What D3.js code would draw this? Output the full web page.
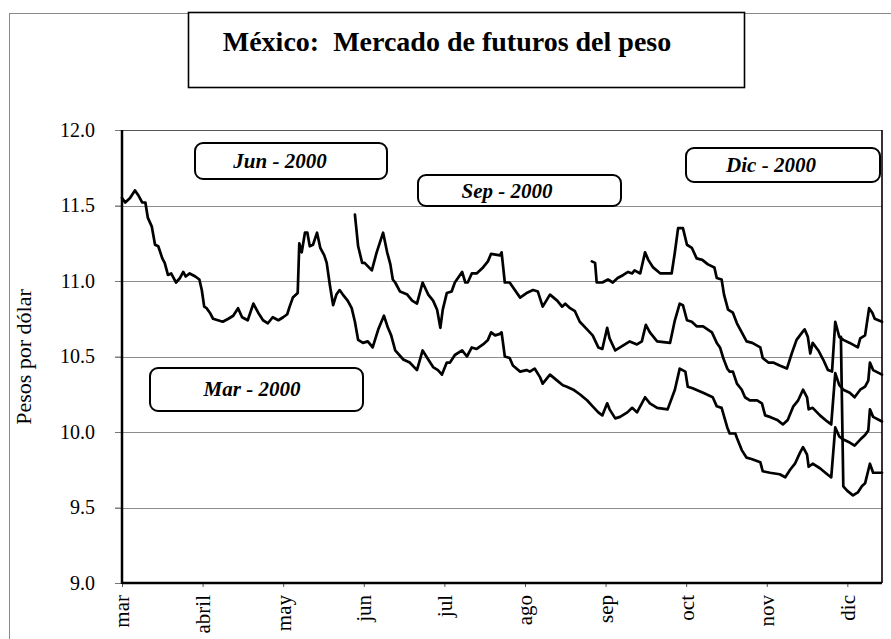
<!DOCTYPE html>
<html><head><meta charset="utf-8">
<script src="https://cdn.jsdelivr.net/npm/d3@7"></script>
<style>
body{margin:0;background:#fff}
svg{display:block}
text{font-family:"Liberation Serif","Times New Roman",serif;fill:#000}
</style>
</head><body>
<svg id="chart" width="891" height="639"></svg>
<script>
// ---- data ----
const months = ["mar","abril","may","jun","jul","ago","sep","oct","nov","dic"];
const yTicks = [9.0, 9.5, 10.0, 10.5, 11.0, 11.5, 12.0];
const titleText = "México:  Mercado de futuros del peso";
const yLabel = "Pesos por dólar";
const contractNames = ["Jun - 2000", "Sep - 2000", "Dic - 2000", "Mar - 2000"];

// [month position (0 = mar), pesos per dollar]
const serie1 = [[0.00,11.55],[0.04,11.52],[0.10,11.55],[0.16,11.60],[0.20,11.57],[0.25,11.52],[0.29,11.52],[0.32,11.42],[0.37,11.36],[0.41,11.24],[0.45,11.23],[0.50,11.15],[0.53,11.12],[0.57,11.04],[0.61,11.05],[0.63,11.03],[0.67,10.99],[0.72,11.02],[0.76,11.06],[0.79,11.03],[0.84,11.05],[0.91,11.03],[0.96,11.01],[0.99,10.94],[1.02,10.83],[1.05,10.82],[1.09,10.79],[1.13,10.75],[1.19,10.74],[1.25,10.73],[1.32,10.75],[1.38,10.77],[1.44,10.82],[1.49,10.76],[1.56,10.74],[1.63,10.85],[1.69,10.79],[1.75,10.74],[1.81,10.72],[1.87,10.76],[1.94,10.74],[2.00,10.76],[2.05,10.78],[2.08,10.83],[2.12,10.89],[2.18,10.92],[2.20,11.25],[2.23,11.19],[2.27,11.32],[2.30,11.32],[2.33,11.23],[2.37,11.24],[2.42,11.32],[2.46,11.22],[2.51,11.17],[2.54,11.12],[2.58,10.97],[2.62,10.84],[2.66,10.91],[2.70,10.94],[2.74,10.91],[2.80,10.87],[2.85,10.82],[2.89,10.73],[2.93,10.61],[2.99,10.59],[3.05,10.60],[3.11,10.56],[3.18,10.68],[3.25,10.77],[3.30,10.69],[3.34,10.64],[3.39,10.54],[3.49,10.48],[3.57,10.46],[3.66,10.41],[3.73,10.54],[3.80,10.48],[3.86,10.43],[3.92,10.41],[3.97,10.38],[4.03,10.46],[4.07,10.46],[4.13,10.51],[4.22,10.54],[4.28,10.50],[4.34,10.56],[4.40,10.55],[4.48,10.58],[4.54,10.61],[4.58,10.66],[4.63,10.64],[4.69,10.65],[4.71,10.66],[4.75,10.50],[4.81,10.49],[4.85,10.44],[4.94,10.40],[5.02,10.41],[5.06,10.40],[5.12,10.42],[5.19,10.36],[5.22,10.32],[5.31,10.38],[5.40,10.34],[5.47,10.31],[5.52,10.30],[5.60,10.28],[5.68,10.25],[5.77,10.21],[5.84,10.17],[5.91,10.13],[5.96,10.11],[6.02,10.19],[6.05,10.15],[6.12,10.09],[6.18,10.10],[6.27,10.13],[6.33,10.16],[6.39,10.13],[6.49,10.23],[6.55,10.19],[6.64,10.16],[6.77,10.15],[6.86,10.28],[6.92,10.42],[6.99,10.40],[7.02,10.30],[7.08,10.29],[7.21,10.26],[7.33,10.23],[7.38,10.17],[7.44,10.16],[7.51,10.03],[7.54,9.99],[7.61,9.99],[7.63,9.96],[7.69,9.88],[7.75,9.83],[7.82,9.82],[7.92,9.80],[7.95,9.74],[8.04,9.73],[8.16,9.72],[8.23,9.70],[8.29,9.75],[8.35,9.79],[8.41,9.86],[8.45,9.90],[8.50,9.85],[8.52,9.77],[8.57,9.79],[8.66,9.76],[8.75,9.72],[8.80,9.70],[8.85,10.03],[8.90,9.97],[8.95,9.95],[9.03,9.93],[9.09,9.91],[9.16,9.95],[9.22,9.98],[9.26,10.01],[9.28,10.15],[9.32,10.10],[9.43,10.07]];

const serie2 = [[2.89,11.44],[2.93,11.23],[2.98,11.12],[3.01,11.12],[3.10,11.07],[3.16,11.19],[3.24,11.32],[3.29,11.19],[3.33,11.11],[3.36,11.01],[3.39,10.99],[3.45,10.93],[3.54,10.91],[3.60,10.87],[3.66,10.85],[3.73,10.99],[3.80,10.91],[3.86,10.87],[3.91,10.81],[3.95,10.69],[3.98,10.81],[4.03,10.92],[4.09,10.93],[4.13,10.99],[4.22,11.06],[4.26,10.99],[4.29,10.99],[4.34,11.05],[4.40,11.05],[4.48,11.09],[4.54,11.13],[4.58,11.18],[4.69,11.17],[4.71,11.19],[4.75,10.99],[4.81,10.99],[4.94,10.89],[5.02,10.92],[5.10,10.94],[5.16,10.93],[5.22,10.83],[5.31,10.91],[5.40,10.87],[5.46,10.83],[5.50,10.85],[5.56,10.82],[5.62,10.80],[5.68,10.73],[5.77,10.68],[5.84,10.64],[5.91,10.56],[5.96,10.55],[6.02,10.69],[6.05,10.62],[6.12,10.54],[6.18,10.56],[6.24,10.58],[6.30,10.60],[6.39,10.58],[6.45,10.60],[6.50,10.71],[6.55,10.66],[6.64,10.60],[6.80,10.59],[6.86,10.74],[6.92,10.85],[6.96,10.84],[7.01,10.74],[7.07,10.73],[7.13,10.70],[7.21,10.70],[7.32,10.66],[7.38,10.59],[7.42,10.56],[7.46,10.49],[7.51,10.42],[7.54,10.40],[7.58,10.40],[7.63,10.32],[7.69,10.28],[7.73,10.23],[7.79,10.21],[7.88,10.21],[7.94,10.19],[7.98,10.11],[8.04,10.10],[8.13,10.08],[8.20,10.05],[8.26,10.08],[8.33,10.17],[8.39,10.21],[8.45,10.28],[8.50,10.23],[8.52,10.15],[8.57,10.16],[8.66,10.11],[8.75,10.07],[8.80,10.05],[8.85,10.39],[8.90,10.31],[8.95,10.28],[9.03,10.26],[9.09,10.23],[9.16,10.28],[9.22,10.30],[9.26,10.34],[9.28,10.46],[9.32,10.41],[9.43,10.38]];

const serie3 = [[5.83,11.13],[5.87,11.12],[5.89,10.99],[5.96,10.99],[6.03,11.01],[6.09,10.99],[6.15,11.02],[6.22,11.04],[6.28,11.06],[6.33,11.05],[6.36,11.07],[6.43,11.05],[6.49,11.19],[6.53,11.14],[6.59,11.09],[6.68,11.05],[6.82,11.05],[6.86,11.19],[6.90,11.35],[6.96,11.35],[7.01,11.24],[7.07,11.22],[7.13,11.15],[7.20,11.14],[7.27,11.11],[7.35,11.09],[7.38,11.02],[7.44,11.01],[7.47,10.91],[7.52,10.81],[7.58,10.79],[7.63,10.72],[7.69,10.66],[7.75,10.60],[7.82,10.59],[7.92,10.56],[7.95,10.49],[8.02,10.46],[8.08,10.46],[8.16,10.44],[8.25,10.42],[8.31,10.52],[8.37,10.61],[8.44,10.66],[8.47,10.68],[8.51,10.63],[8.54,10.52],[8.57,10.59],[8.64,10.54],[8.70,10.48],[8.76,10.41],[8.81,10.40],[8.85,10.73],[8.90,10.63],[8.95,10.61],[9.03,10.59],[9.13,10.56],[9.16,10.62],[9.22,10.64],[9.27,10.82],[9.31,10.79],[9.34,10.75],[9.43,10.73]];

const serie4 = [[8.92,10.63],[8.95,9.64],[9.00,9.61],[9.07,9.58],[9.13,9.60],[9.18,9.64],[9.22,9.66],[9.28,9.79],[9.32,9.73],[9.43,9.73]];

const series = [serie1, serie2, serie3, serie4];

// ---- layout ----
const SERIF = '"Liberation Serif","Times New Roman",serif';
const svg = d3.select("#chart");
const L = 122, R = 882, T = 130, B = 583;
const x = d3.scaleLinear().domain([0, 9.43]).range([L, R]);
const y = d3.scaleLinear().domain([9, 12]).range([B, T]);

// outer page frame
svg.append("rect").attr("x", 9.5).attr("y", 13.5).attr("width", 1000).attr("height", 1000)
  .attr("fill", "none").attr("stroke", "#8a8a8a").attr("stroke-width", 1);

// title box
svg.append("rect").attr("x", 188.5).attr("y", 12.5).attr("width", 556).attr("height", 75)
  .attr("fill", "#fff").attr("stroke", "#000").attr("stroke-width", 1.6);
svg.append("text").attr("x", 447).attr("y", 51).attr("text-anchor", "middle")
  .attr("xml:space", "preserve").style("white-space", "pre")
  .style("font-size", "28px").style("font-weight", "bold").text(titleText);

// grid lines
svg.append("g").selectAll("line").data(yTicks.filter(d => d > 9)).join("line")
  .attr("x1", L - 7).attr("x2", R).attr("y1", d => Math.round(y(d)) + 0.5).attr("y2", d => Math.round(y(d)) + 0.5)
  .attr("stroke", d => d === 12 ? "#555" : "#8c8c8c").attr("stroke-width", 1);

// y axis
const yAxis = svg.append("g").attr("transform", `translate(${L},0)`)
  .call(d3.axisLeft(y).tickValues(yTicks).tickFormat(d3.format(".1f")).tickSize(7).tickPadding(20))
  .attr("font-family", SERIF).attr("font-size", 20);
yAxis.select(".domain").remove();
yAxis.selectAll(".tick line").attr("stroke", "#777");
yAxis.selectAll(".tick text").attr("font-family", SERIF).style("font-family", SERIF).style("font-size", "20px");

// x axis
const xAxis = svg.append("g").attr("transform", `translate(0,${B})`)
  .call(d3.axisBottom(x).tickValues(d3.range(months.length)).tickFormat(i => months[i]).tickSize(4))
  .attr("font-family", SERIF).attr("font-size", 21);
xAxis.select(".domain").remove();
xAxis.selectAll(".tick line").attr("stroke", "#555");
xAxis.selectAll(".tick text")
  .attr("transform", "rotate(-90)").attr("text-anchor", "end")
  .attr("x", -12).attr("y", 0).attr("dy", "0.33em")
  .style("font-size", "21px").style("font-family", SERIF);

// plot frame
svg.append("line").attr("x1", R).attr("x2", R).attr("y1", T).attr("y2", B)
  .attr("stroke", "#000").attr("stroke-width", 1.6);
svg.append("line").attr("x1", L).attr("x2", L).attr("y1", T).attr("y2", B + 1)
  .attr("stroke", "#000").attr("stroke-width", 2.5);
svg.append("line").attr("x1", L).attr("x2", R).attr("y1", B).attr("y2", B)
  .attr("stroke", "#000").attr("stroke-width", 2.5);

// y label
svg.append("text").attr("transform", "translate(31,357) rotate(-90)").attr("text-anchor", "middle")
  .style("font-size", "22px").text(yLabel);

// series lines
const line = d3.line().x(d => x(d[0])).y(d => y(d[1]));
svg.append("g").selectAll("path").data(series).join("path")
  .attr("d", line).attr("fill", "none").attr("stroke", "#000")
  .attr("stroke-width", 2.7).attr("stroke-linejoin", "round").attr("stroke-linecap", "round");

// contract label boxes
const boxes = [
  {name: contractNames[0], x0: 195, y0: 143, x1: 387, y1: 179, tx: 280, ty: 168},
  {name: contractNames[1], x0: 418, y0: 175, x1: 621, y1: 206, tx: 507, ty: 198},
  {name: contractNames[2], x0: 686, y0: 148, x1: 880, y1: 182, tx: 771, ty: 172},
  {name: contractNames[3], x0: 150, y0: 368, x1: 363, y1: 411, tx: 252, ty: 396}
];
const bg = svg.append("g").selectAll("g").data(boxes).join("g");
bg.append("rect").attr("x", d => d.x0).attr("y", d => d.y0)
  .attr("width", d => d.x1 - d.x0).attr("height", d => d.y1 - d.y0)
  .attr("rx", 8).attr("ry", 8).attr("fill", "#fff").attr("stroke", "#000").attr("stroke-width", 2);
bg.append("text").attr("x", d => d.tx).attr("y", d => d.ty).attr("text-anchor", "middle")
  .style("font-size", "21px").style("font-weight", "bold").style("font-style", "italic")
  .text(d => d.name);
</script>
</body></html>
